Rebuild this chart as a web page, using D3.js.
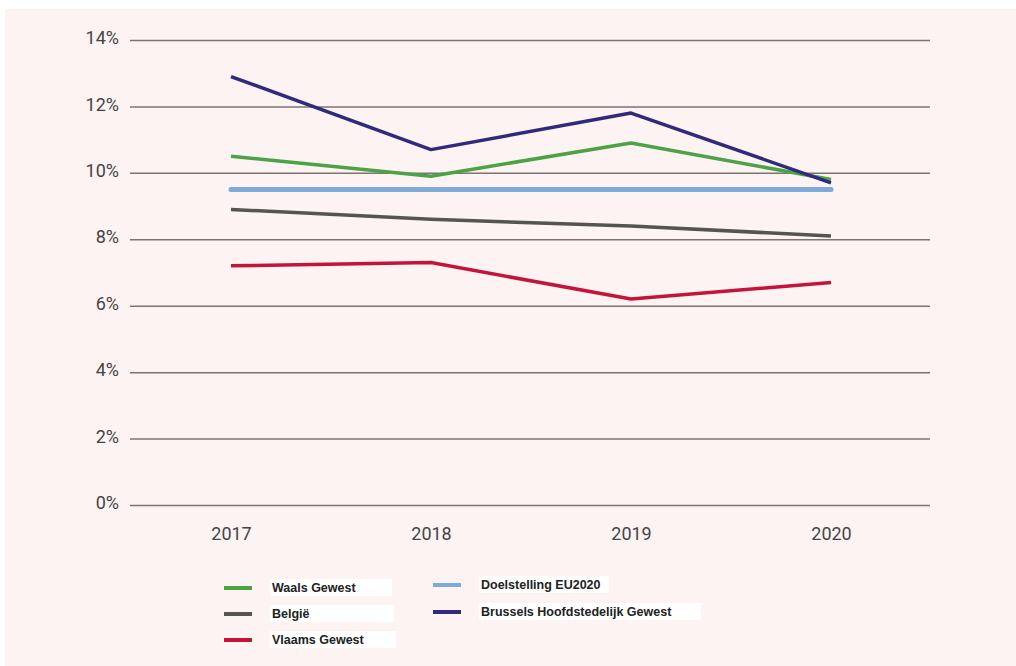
<!DOCTYPE html>
<html>
<head>
<meta charset="utf-8">
<script src="https://cdn.jsdelivr.net/npm/d3@7"></script>
<style>
  body { margin: 0; background: #fff; }
  svg { display: block; }
  .tick text { font-family: Roboto, "Noto Sans", sans-serif; fill: #444; }
  .legend text { font-family: "Liberation Sans", Arial, sans-serif; font-weight: bold; font-size: 12.5px; fill: #222; }
</style>
</head>
<body>
<div id="chart"></div>
<script>
var years = [2017, 2018, 2019, 2020];
var waals = [10.5, 9.9, 10.9, 9.8];
var belgie = [8.9, 8.6, 8.4, 8.1];
var vlaams = [7.2, 7.3, 6.2, 6.7];
var doel = [9.5, 9.5, 9.5, 9.5];
var brussel = [12.9, 10.7, 11.8, 9.7];
var yTicks = [0, 2, 4, 6, 8, 10, 12, 14];

var series = [
  { name: "Waals Gewest", values: waals, color: "#4ba345", width: 3.5 },
  { name: "België", values: belgie, color: "#555353", width: 3.5 },
  { name: "Vlaams Gewest", values: vlaams, color: "#c3143d", width: 3.5 },
  { name: "Doelstelling EU2020", values: doel, color: "#7eaad8", width: 5 },
  { name: "Brussels Hoofdstedelijk Gewest", values: brussel, color: "#2f2a7c", width: 3.5 }
];
// drawing order (EU target under green/navy)
var drawOrder = [3, 1, 2, 0, 4];

var W = 1016, H = 666;
var svg = d3.select("#chart").append("svg").attr("width", W).attr("height", H);

// background panel
svg.append("rect").attr("x", 5).attr("y", 9).attr("width", W - 5).attr("height", H - 9)
  .attr("fill", "#fcf3f2");

var x = d3.scalePoint().domain(years).range([231, 831]);
var y = d3.scaleLinear().domain([0, 14]).range([505, 40]);

// grid + y labels
var yAxis = d3.axisLeft(y).tickValues(yTicks).tickSize(-800).tickPadding(11)
  .tickFormat(function(d){ return d + "%"; });
var gy = svg.append("g").attr("transform", "translate(130,0)").call(yAxis);
gy.select(".domain").remove();
gy.selectAll(".tick line").attr("stroke", "#7d7373").attr("stroke-width", 1.5);
gy.selectAll(".tick text").style("font-size", "18px").attr("dy", "0.2em");

// x labels
var xAxis = d3.axisBottom(x).tickSize(0).tickPadding(22);
var gx = svg.append("g").attr("transform", "translate(0,505)").call(xAxis);
gx.select(".domain").remove();
gx.selectAll(".tick text").style("font-size", "18px");

var line = d3.line()
  .x(function(d, i){ return x(years[i]); })
  .y(function(d){ return y(d); });

drawOrder.forEach(function(k){
  var s = series[k];
  svg.append("path")
    .datum(s.values)
    .attr("fill", "none")
    .attr("stroke", s.color)
    .attr("stroke-width", s.width)
    .attr("stroke-linecap", k === 3 ? "round" : "butt")
    .attr("stroke-linejoin", "round")
    .attr("d", line);
});

// legend
var legendPos = [
  { x: 224, y: 588, box: 122 },
  { x: 224, y: 614, box: 124 },
  { x: 224, y: 640, box: 126 },
  { x: 433, y: 585, box: 130 },
  { x: 433, y: 612, box: 222 }
];
var lg = svg.append("g").attr("class", "legend");
series.forEach(function(s, i){
  var p = legendPos[i];
  lg.append("rect").attr("x", p.x + 46).attr("y", p.y - 9).attr("width", p.box).attr("height", 17)
    .attr("fill", "#ffffff");
  lg.append("line").attr("x1", p.x).attr("x2", p.x + 28).attr("y1", p.y).attr("y2", p.y)
    .attr("stroke", s.color).attr("stroke-width", 4);
  lg.append("text").attr("x", p.x + 48).attr("y", p.y).attr("dy", "0.35em").text(s.name);
});
</script>
</body>
</html>
